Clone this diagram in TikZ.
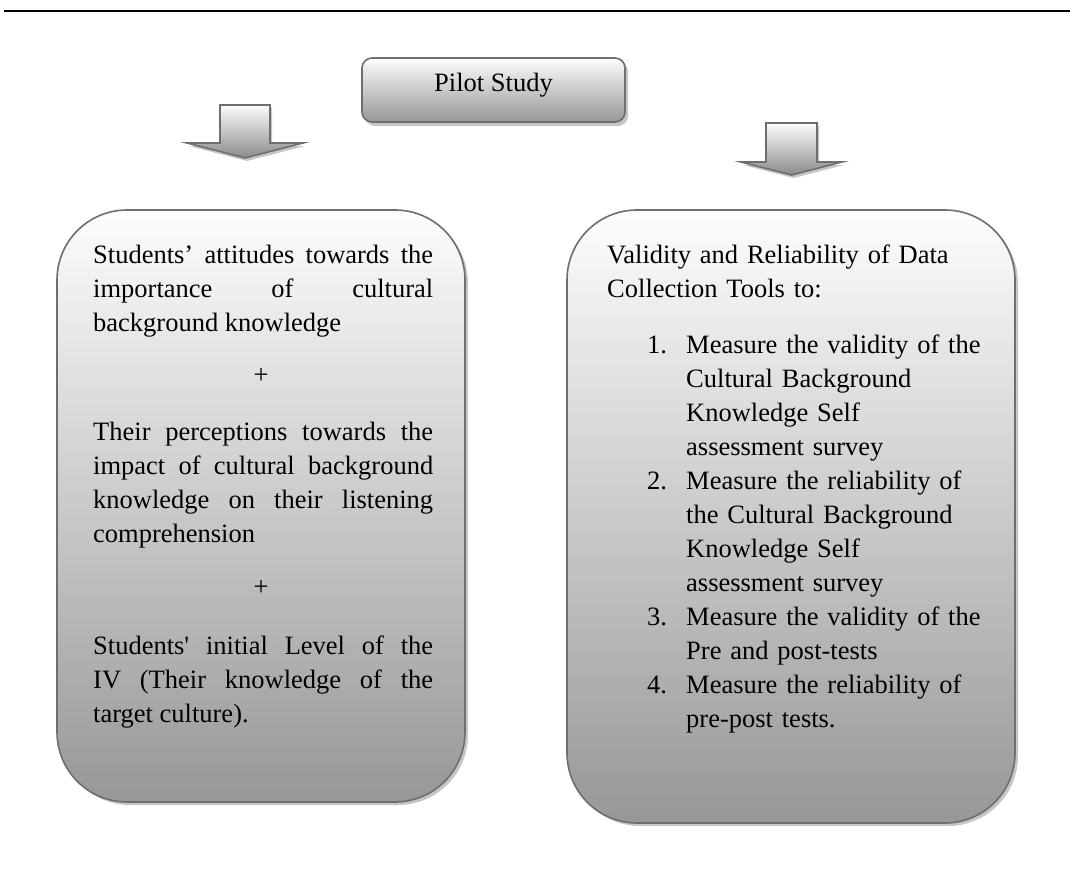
\documentclass[tikz,border=0pt]{standalone}
\usepackage{fontspec}
\setmainfont{Liberation Serif}[Ligatures=TeXOff]
\definecolor{edgegray}{HTML}{6E6E6E}
\definecolor{paneltop}{HTML}{FDFDFD}
\definecolor{panelbottom}{HTML}{979797}
\definecolor{shadowgray}{HTML}{C6C6C6}
\begin{document}
\begin{tikzpicture}[x=1pt,y=-1pt,
  panel/.style={draw=edgegray, line width=1.6pt, top color=paneltop, bottom color=panelbottom},
  arrowbody/.style={draw=edgegray, line width=1.6pt, top color=paneltop, bottom color=panelbottom!92!black},
  dropshadow/.style={fill=shadowgray, draw=none},
  txt/.style={font=\fontsize{26.5}{34}\selectfont, inner sep=0pt, anchor=base west, text=black},
  para/.style={txt, text width=340pt, align=justify},
  itemtext/.style={txt, text width=320pt, align=left}
]
\useasboundingbox (0,0) rectangle (1070,888);
\fill[white] (0,0) rectangle (1070,888);

% rule across the top
\coordinate (ruleL) at (4,11);
\coordinate (ruleR) at (1070,11);
\draw[line width=1.2pt] (ruleL) -- (ruleR);

% shadows
\fill[dropshadow, rounded corners=10pt] (365,61) rectangle (628,126);
\fill[dropshadow, rounded corners=70pt] (60,213) rectangle (468,805);
\fill[dropshadow, rounded corners=70pt] (570,213) rectangle (1018,826);
\fill[dropshadow, shift={(2,3)}] (220,105) -- (270,105) -- (270,143) -- (303,143) -- (245,158) -- (187,143) -- (220,143) -- cycle;
\fill[dropshadow, shift={(2,3)}] (766,123) -- (817,123) -- (817,162) -- (842,162) -- (791.5,175) -- (741,162) -- (766,162) -- cycle;

% title box
\node[panel, rounded corners=10pt, minimum width=263pt, minimum height=64pt, inner sep=0pt] (pilot) at (493.5,90) {};
\node[txt, anchor=base] (pilotlabel) at (493.5,92) {Pilot Study};

% block arrows
\draw[arrowbody] (220,105) -- (270,105) -- (270,143) -- (303,143) -- (245,158) -- (187,143) -- (220,143) -- cycle;
\draw[arrowbody] (766,123) -- (817,123) -- (817,162) -- (842,162) -- (791.5,175) -- (741,162) -- (766,162) -- cycle;

% left panel
\draw[panel, rounded corners=70pt] (57,210) rectangle (465,802);
\node[para] (attitudes) at (93,263) {Students’ attitudes towards the\linebreak importance of cultural\linebreak background knowledge};
\node[txt, anchor=base] (plusA) at (261,383.5) {+};
\node[para] (perceptions) at (93,440) {Their perceptions towards the\linebreak impact of cultural background\linebreak knowledge on their listening\linebreak comprehension};
\node[txt, anchor=base] (plusB) at (261,595.5) {+};
\node[para] (initial) at (93,654) {Students' initial Level of the\linebreak IV (Their knowledge of the\linebreak target culture).};

% right panel
\draw[panel, rounded corners=70pt] (567,210) rectangle (1015,823);
\node[txt, text width=380pt, align=left] (validity) at (607,263) {Validity and Reliability of Data\\Collection Tools to:};
\node[txt] (num1) at (647,353) {1.};
\node[itemtext] (item1) at (686,353) {Measure the validity of the\\Cultural Background\\Knowledge Self\\assessment survey};
\node[txt] (num2) at (647,489) {2.};
\node[itemtext] (item2) at (686,489) {Measure the reliability of\\the Cultural Background\\Knowledge Self\\assessment survey};
\node[txt] (num3) at (647,625) {3.};
\node[itemtext] (item3) at (686,625) {Measure the validity of the\\Pre and post-tests};
\node[txt] (num4) at (647,693) {4.};
\node[itemtext] (item4) at (686,693) {Measure the reliability of\\pre-post tests.};
\end{tikzpicture}
\end{document}
